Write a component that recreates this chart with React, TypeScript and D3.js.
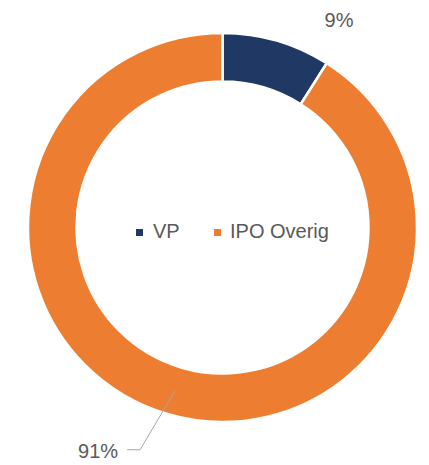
import React from "react";
import * as d3 from "d3";

const categories = ["VP", "IPO Overig"];
const values = [9, 91];
const labels = ["9%", "91%"];
const colors = ["#1F3864", "#ED7D31"];

const W = 429;
const H = 465;
const cx = 222.5;
const cy = 227.5;
const outerR = 194.5;
const innerR = 146;
const font = "'Liberation Sans', Arial, sans-serif";
const textColor = "#595959";

export default function App() {
  const pie = d3.pie<number>().sort(null).value((d) => d)(values);
  const arc = d3.arc<d3.PieArcDatum<number>>().innerRadius(innerR).outerRadius(outerR);
  const midArc = d3.arc<d3.PieArcDatum<number>>().innerRadius(170).outerRadius(170);

  const [c1x, c1y] = midArc.centroid(pie[1]);
  const elbow: [number, number] = [c1x - 35, c1y + 59];
  const lineEnd: [number, number] = [elbow[0] - 13, elbow[1]];

  return (
    <svg width={W} height={H} style={{ position: "absolute", left: 0, top: 0, background: "#fff" }}>
      <g transform={`translate(${cx},${cy})`}>
        {pie.map((p, i) => (
          <path key={categories[i]} d={arc(p) || ""} fill={colors[i]} stroke="#fff" strokeWidth={2.5} />
        ))}
        <polyline
          points={[[c1x, c1y], elbow, lineEnd].map((q) => q.join(",")).join(" ")}
          fill="none"
          stroke="#A6A6A6"
          strokeWidth={1}
        />
        <text x={lineEnd[0] - 9} y={lineEnd[1] + 8} textAnchor="end" fontFamily={font} fontSize={20} fill={textColor}>
          {labels[1]}
        </text>
        <text x={116.5} y={-201} textAnchor="middle" fontFamily={font} fontSize={20} fill={textColor}>
          {labels[0]}
        </text>
      </g>
      <g transform={`translate(136,238)`}>
        <rect x={0} y={-9} width={7} height={7} fill={colors[0]} />
        <text x={17} y={0} fontFamily={font} fontSize={20} fill={textColor}>{categories[0]}</text>
        <rect x={78} y={-9} width={7} height={7} fill={colors[1]} />
        <text x={94} y={0} fontFamily={font} fontSize={20} fill={textColor}>{categories[1]}</text>
      </g>
    </svg>
  );
}
